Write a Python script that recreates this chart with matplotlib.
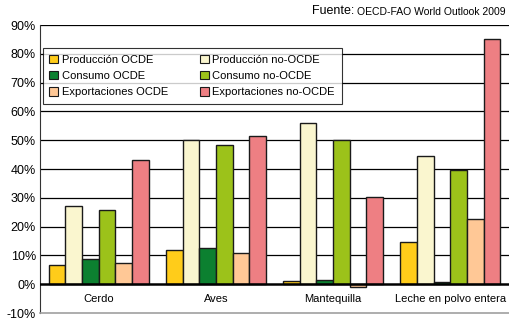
import numpy as np
import matplotlib
matplotlib.use("Agg")
import matplotlib.pyplot as plt
from matplotlib.patches import Patch

plt.rcParams['font.family'] = ['Liberation Sans', 'DejaVu Sans']

# datos (%)
categorias = ["Cerdo", "Aves", "Mantequilla", "Leche en polvo entera"]
series = ["Producción OCDE", "Producción no-OCDE", "Consumo OCDE",
          "Consumo no-OCDE", "Exportaciones OCDE", "Exportaciones no-OCDE"]
prod_ocde = [6.5, 12.0, 1.1, 14.5]
prod_no_ocde = [27.3, 50.0, 55.8, 44.4]
cons_ocde = [8.6, 12.7, 1.6, 0.9]
cons_no_ocde = [25.9, 48.2, 49.9, 39.5]
exp_ocde = [7.5, 11.0, -0.8, 22.5]
exp_no_ocde = [43.0, 51.6, 30.3, 85.0]
colores = ["#FFCC1A", "#FAF6CF", "#0C8030", "#9CC21A", "#FFC896", "#EE7F83"]

valores = [prod_ocde, prod_no_ocde, cons_ocde, cons_no_ocde, exp_ocde, exp_no_ocde]

fig = plt.figure(figsize=(5.1, 3.26), dpi=100)
ax = fig.add_axes([40/510, 13/326, 469/510, 288/326])

x = np.arange(len(categorias))
w = 0.142
for i, (vals, c) in enumerate(zip(valores, colores)):
    ax.bar(x + (i - 2.5) * w, vals, w, color=c, edgecolor="#1a1a1a", linewidth=1.0, zorder=3)

ax.set_ylim(-10, 90)
ax.set_xlim(-0.5, 3.5)
ax.set_yticks(np.arange(-10, 91, 10))
ax.set_yticklabels([f"{v}%" for v in range(-10, 91, 10)], fontsize=9)
ax.tick_params(axis='y', length=0, pad=3)
ax.set_xticks([])
for v in range(10, 91, 10):
    ax.axhline(v, color="black", linewidth=0.9, zorder=1)
ax.axhline(0, color="black", linewidth=1.8, zorder=4)
for s in ["top", "right"]:
    ax.spines[s].set_visible(False)
ax.spines["left"].set_color("#333333")
ax.spines["bottom"].set_color("#a0a0a0")
ax.spines["bottom"].set_linewidth(1.2)

for xi, cat in zip(x, categorias):
    ax.text(xi, -5.3, cat, ha="center", va="center", fontsize=8)

# leyenda en orden por filas (como en el original)
orden = [0, 2, 4, 1, 3, 5]
handles = [Patch(facecolor=colores[k], edgecolor="#1a1a1a", linewidth=0.8) for k in orden]
labels = [series[k] for k in orden]
leg = ax.legend(handles, labels, ncol=2, loc="upper left", bbox_to_anchor=(0.006, 0.92),
                borderaxespad=0, fontsize=8, frameon=True, fancybox=False, edgecolor="black",
                handlelength=0.8, handleheight=0.8, handletextpad=0.3,
                columnspacing=2.9, labelspacing=0.55, borderpad=0.6)
leg.get_frame().set_linewidth(0.8)
leg.set_zorder(5)

t2 = fig.text(506/510, 1 - 15/326, "OECD-FAO World Outlook 2009", ha="right", va="baseline", fontsize=7.5)
ax.annotate("Fuente: ", xy=(0, 0), xycoords=t2, ha="right", va="bottom", fontsize=9)

fig.savefig("out.png", dpi=100)
